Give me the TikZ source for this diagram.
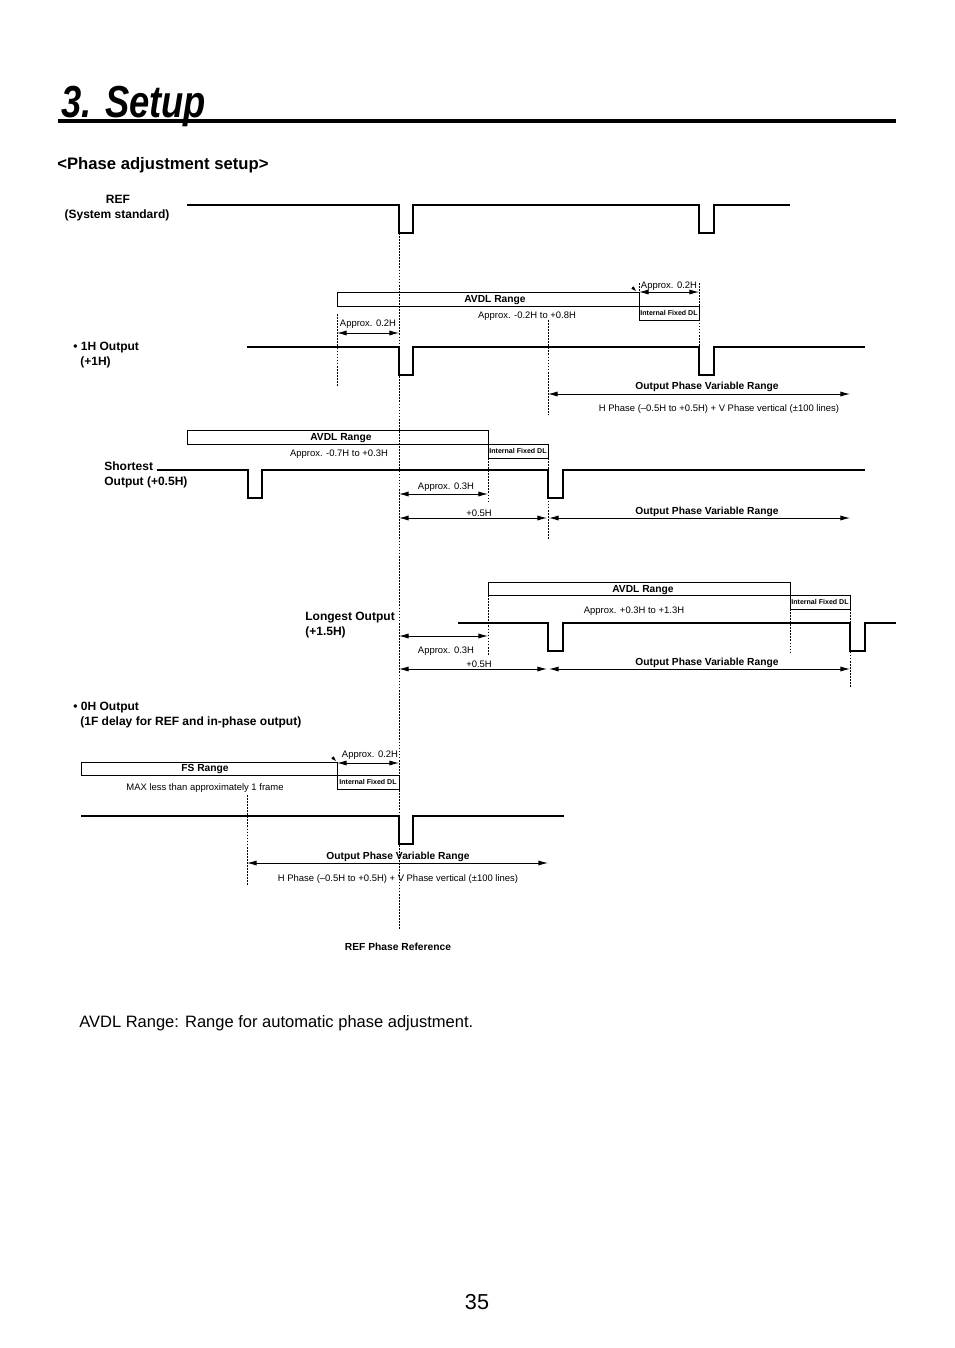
\documentclass[tikz,border=0pt]{standalone}
\usepackage{fontspec}
\setmainfont{Liberation Sans}
\usepackage{graphicx}
\usetikzlibrary{arrows.meta}
\tikzset{sig/.style={line width=0.65pt},
  guide/.style={line width=0.4pt,dash pattern=on 1.1pt off 0.8pt},
  range box/.style={draw,line width=0.6pt},
  dim/.style={line width=0.55pt,{Latex[length=6pt,width=3.2pt]}-{Latex[length=6pt,width=3.2pt]}},
  pointer/.style={line width=0.3pt,-{Latex[length=3pt,width=2.2pt]}},
  tiny text/.style={font=\fontsize{5.9}{7}\selectfont,inner sep=0pt,text height=4.2pt,text depth=0pt},
  bold text/.style={font=\bfseries\fontsize{6.4}{7.5}\selectfont,inner sep=0pt,text height=4.6pt,text depth=0pt},
  dl text/.style={font=\bfseries\fontsize{4.4}{5}\selectfont,inner sep=0pt,text height=3.2pt,text depth=0pt},
  side text/.style={font=\bfseries\fontsize{7.5}{9}\selectfont,inner sep=0pt,text height=5.4pt,text depth=0pt}}
\def\fixeddl{Internal Fixed DL}
\def\opvr{Output Phase Variable Range}

\begin{document}
\begin{tikzpicture}[x=0.624pt,y=-0.624pt]
  \useasboundingbox (0,0) rectangle (954,1348);

  %見出し
  \node[anchor=base west,inner sep=0pt] (title) at (61,117)
    {\scalebox{0.81}[1]{\fontsize{28}{30}\selectfont\bfseries\itshape 3. Setup}};
  \draw[line width=2.5pt] (58,121) -- (896,121);
  \node[anchor=west,inner sep=0pt,text height=7.5pt,text depth=0pt,font=\bfseries\fontsize{10.4}{12}\selectfont] (head) at (57,163) {<Phase adjustment setup>};

  %REF
  \node[side text] (ref) at (118,199) {REF};
  \node[side text] (refsub) at (117,214) {(System standard)};
  \draw[sig] (187,205) -- (399,205) -- (399,233) -- (413,233) -- (413,205) -- (699,205) -- (699,233) -- (714,233) -- (714,205) -- (790,205);

  %1H出力
  \node[side text,anchor=west] (h1) at (73,346) {• 1H Output};
  \node[side text,anchor=west] (h1sub) at (80,361) {(+1H)};
  \draw[sig] (247,347) -- (399,347) -- (399,375) -- (413,375) -- (413,347) -- (699,347) -- (699,375) -- (714,375) -- (714,347) -- (865,347);
  \draw[range box] (337,292) rectangle (639,306);
  \draw[range box] (639,306) rectangle (699,320);
  \node[bold text] (h1avdl) at (495,299) {AVDL Range};
  \node[tiny text] (h1apx) at (527,315) {Approx. -0.2H to +0.8H};
  \node[dl text] (h1dl) at (669,313) {\fixeddl};
  \draw[guide] (337,314) -- (337,387);
  \draw[guide] (548,320) -- (548,415);
  \draw[guide] (639,283) -- (639,292);
  \draw[guide] (699,283) -- (699,347);
  \draw[dim] (337,333) -- (399,333);
  \node[tiny text] (h1a) at (368,323) {Approx. 0.2H};
  \draw[dim] (639,292) -- (699,292);
  \node[tiny text] (h1b) at (669,285) {Approx. 0.2H};
  \draw[pointer] (632,287) -- (636,291);
  \draw[dim] (548,394) -- (850,394);
  \node[bold text] (h1op) at (707,386) {\opvr};
  \node[tiny text] (h1ph) at (719,408) {H Phase (–0.5H to +0.5H) + V Phase vertical (±100 lines)};

  %最短出力
  \node[side text,anchor=west] (sh) at (104,466) {Shortest};
  \node[side text,anchor=west] (shsub) at (104,481) {Output (+0.5H)};
  \draw[sig] (157,470) -- (248,470) -- (248,498) -- (262,498) -- (262,470) -- (548,470) -- (548,498) -- (563,498) -- (563,470) -- (865,470);
  \draw[range box] (187,430) rectangle (488,444);
  \draw[range box] (488,444) rectangle (548,458);
  \node[bold text] (shavdl) at (341,437) {AVDL Range};
  \node[tiny text] (shapx) at (339,453) {Approx. -0.7H to +0.3H};
  \node[dl text] (shdl) at (518,451) {\fixeddl};
  \draw[guide] (488,458) -- (488,503);
  \draw[guide] (548,458) -- (548,539);
  \draw[dim] (399,494) -- (488,494);
  \node[tiny text] (sha) at (446,486) {Approx. 0.3H};
  \draw[dim] (399,518) -- (547,518);
  \node[tiny text] (shh) at (479,513) {+0.5H};
  \draw[dim] (549,518) -- (850,518);
  \node[bold text] (shop) at (707,511) {\opvr};

  %最長出力
  \node[side text,anchor=west] (lo) at (305,616) {Longest Output};
  \node[side text,anchor=west] (losub) at (305,631) {(+1.5H)};
  \draw[sig] (458,623) -- (548,623) -- (548,651) -- (563,651) -- (563,623) -- (850,623) -- (850,651) -- (865,651) -- (865,623) -- (896,623);
  \draw[range box] (488,582) rectangle (790,595);
  \draw[range box] (790,595) rectangle (850,609);
  \node[bold text] (loavdl) at (643,589) {AVDL Range};
  \node[tiny text] (loapx) at (634,610) {Approx. +0.3H to +1.3H};
  \node[dl text] (lodl) at (820,602) {\fixeddl};
  \draw[guide] (488,595) -- (488,655);
  \draw[guide] (790,609) -- (790,653);
  \draw[guide] (850,609) -- (850,688);
  \draw[dim] (399,636) -- (488,636);
  \node[tiny text] (loa) at (446,650) {Approx. 0.3H};
  \draw[dim] (399,669) -- (547,669);
  \node[tiny text] (loh) at (479,664) {+0.5H};
  \draw[dim] (549,669) -- (850,669);
  \node[bold text] (loop) at (707,662) {\opvr};

  %0H出力
  \node[side text,anchor=west] (z) at (73,706) {• 0H Output};
  \node[side text,anchor=west] (zsub) at (80,721) {(1F delay for REF and in-phase output)};
  \draw[sig] (81,816) -- (399,816) -- (399,844) -- (413,844) -- (413,816) -- (564,816);
  \draw[range box] (81,762) rectangle (337,775);
  \draw[range box] (337,775) rectangle (399,789);
  \node[bold text] (zfs) at (205,768) {FS Range};
  \node[tiny text] (zmax) at (205,787) {MAX less than approximately 1 frame};
  \node[dl text] (zdl) at (368,782) {\fixeddl};
  \draw[guide] (247,795) -- (247,885);
  \draw[dim] (337,763) -- (399,763);
  \node[tiny text] (za) at (370,754) {Approx. 0.2H};
  \draw[pointer] (332,757) -- (336,761);
  \draw[dim] (247,863) -- (548,863);
  \node[bold text] (zop) at (398,856) {\opvr};
  \node[tiny text] (zph) at (398,878) {H Phase (–0.5H to +0.5H) + V Phase vertical (±100 lines)};

  %REF位相基準
  \draw[guide] (399,233) -- (399,930);
  \node[bold text] (refph) at (398,947) {REF Phase Reference};

  %注記とページ番号
  \node[anchor=west,inner sep=0pt,text height=7.4pt,text depth=0pt,font=\fontsize{10.3}{12}\selectfont] (note) at (79,1022) {AVDL Range: Range for automatic phase adjustment.};
  \node[inner sep=0pt,text height=9.7pt,text depth=0pt,font=\fontsize{13.5}{15}\selectfont] (page) at (477,1302) {35};

\end{tikzpicture}
\end{document}
